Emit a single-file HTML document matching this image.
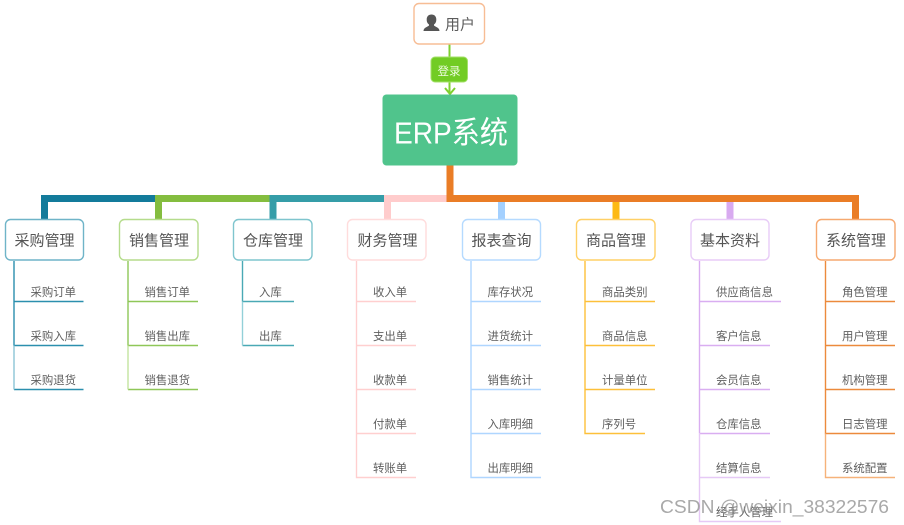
<!DOCTYPE html>
<html><head><meta charset="utf-8"><style>
html,body{margin:0;padding:0;background:#fff;width:904px;height:525px;overflow:hidden}
svg{display:block;filter:blur(0.3px)}
text{font-family:"Liberation Sans","Noto Sans CJK SC",sans-serif}
.p{font-size:15px;fill:#555;text-anchor:middle}
.c{font-size:11.4px;fill:#5f5f5f}
rect.b{fill:#fff;stroke-width:1.4}
.l{fill:none;stroke-width:1.4}
</style></head><body>
<svg width="904" height="525" viewBox="0 0 904 525" xmlns="http://www.w3.org/2000/svg">

<!-- bus -->
<rect x="446.5" y="165" width="7" height="37" fill="#ea7d26"/>
<rect x="41" y="195" width="114" height="7" fill="#137b9b"/>
<rect x="41" y="195" width="7" height="24" fill="#137b9b"/>
<rect x="155" y="195" width="114.5" height="7" fill="#84bd3f"/>
<rect x="155" y="195" width="7" height="24" fill="#84bd3f"/>
<rect x="269.5" y="195" width="114.5" height="7" fill="#359da8"/>
<rect x="269.5" y="195" width="7" height="24" fill="#359da8"/>
<rect x="384" y="195" width="62.5" height="7" fill="#ffcccc"/>
<rect x="384" y="195" width="7" height="24" fill="#ffcccc"/>
<rect x="446.5" y="195" width="412.5" height="7" fill="#ea7d26"/>
<rect x="498" y="202" width="7" height="17" fill="#a3d0ff"/>
<rect x="612.5" y="202" width="7" height="17" fill="#fdb913"/>
<rect x="726.5" y="202" width="7" height="17" fill="#d8aaf0"/>
<rect x="852" y="202" width="7" height="17" fill="#ea7d26"/>

<!-- user -->
<line x1="449.5" y1="44" x2="449.5" y2="94" stroke="#7ed02f" stroke-width="2"/>
<path d="M445 88 L450 94 L455 88" fill="none" stroke="#7ed02f" stroke-width="2"/>
<rect class="b" x="414" y="3.5" width="70.5" height="40.5" rx="5" stroke="#f7bd95"/>
<path d="M423.500 30.500 c0-3.500 4-4 5.500-5.500 v-1 c-1.800-1.200-2.300-3-2.300-5 c0-3 1.800-5 4.800-5 s4.800 2 4.800 5 c0 2-.5 3.800-2.300 5 v1 c1.500 1.500 5.500 2 5.500 5.500 z" fill="#555" transform="translate(0,0.5)"/>
<text x="445" y="29.5" style="font-size:15px;fill:#5c5c5c">用户</text>
<rect x="431" y="57" width="36.5" height="25" rx="4" fill="#72cc24" stroke="#a4e06a" stroke-width="1"/>
<text x="437.5" y="75" style="font-size:11.5px;fill:#eefbe0">登录</text>
<rect x="382.5" y="94.5" width="135" height="71" rx="4" fill="#50c48c"/>
<text x="394" y="143.5" textLength="114" lengthAdjust="spacingAndGlyphs" style="font-size:31px;fill:#fff">ERP系统</text>

<!-- parents -->
<rect class="b" x="5.5" y="219.5" width="78" height="40.5" rx="5" stroke="#6fb4c8"/>
<text class="p" x="44.5" y="245.5">采购管理</text>
<rect class="b" x="119.5" y="219.5" width="78.5" height="40.5" rx="5" stroke="#b5dc8c"/>
<text class="p" x="159" y="245.5">销售管理</text>
<rect class="b" x="233.5" y="219.5" width="78.5" height="40.5" rx="5" stroke="#7fc5ce"/>
<text class="p" x="273" y="245.5">仓库管理</text>
<rect class="b" x="347.5" y="219.5" width="78.5" height="40.5" rx="5" stroke="#ffdcdc"/>
<text class="p" x="387.5" y="245.5">财务管理</text>
<rect class="b" x="462.5" y="219.5" width="78" height="40.5" rx="5" stroke="#b5daff"/>
<text class="p" x="501.5" y="245.5">报表查询</text>
<rect class="b" x="576.5" y="219.5" width="78.5" height="40.5" rx="5" stroke="#ffd066"/>
<text class="p" x="616" y="245.5">商品管理</text>
<rect class="b" x="691" y="219.5" width="78" height="40.5" rx="5" stroke="#e8ccf7"/>
<text class="p" x="730" y="245.5">基本资料</text>
<rect class="b" x="816.5" y="219.5" width="78.5" height="40.5" rx="5" stroke="#f6a970"/>
<text class="p" x="856" y="245.5">系统管理</text>

<!-- 采购 -->
<path class="l" d="M14 261 V345.5 M14 301.5 H83.5 M14 345.5 H83.5 M14 389.5 H83.5" stroke="#2b8fae"/>
<path class="l" d="M14 345.5 V389.5" stroke="#8cc5d6"/>
<text class="c" x="30.500" y="296">采购订单</text>
<text class="c" x="30.500" y="340">采购入库</text>
<text class="c" x="30.500" y="384">采购退货</text>

<!-- 销售 -->
<path class="l" d="M128 261 V345.5 M128 301.5 H198 M128 345.5 H198 M128 389.5 H198" stroke="#8fc758"/>
<path class="l" d="M128 345.5 V389.5" stroke="#c3e3a0"/>
<text class="c" x="144.5" y="296">销售订单</text>
<text class="c" x="144.5" y="340">销售出库</text>
<text class="c" x="144.5" y="384">销售退货</text>

<!-- 仓库 -->
<path class="l" d="M242.5 261 V301.5 M242.5 301.5 H294 M242.5 345.5 H294" stroke="#4aa9b5"/>
<path class="l" d="M242.5 301.5 V345.5" stroke="#93d0d8"/>
<text class="c" x="259" y="296">入库</text>
<text class="c" x="259" y="340">出库</text>

<!-- 财务 -->
<path class="l" d="M356.5 261 V477.5 H416 M356.5 301.5 H416 M356.5 345.5 H416 M356.5 389.5 H416 M356.5 433.5 H416" stroke="#ffcfcf"/>
<text class="c" x="373" y="296">收入单</text>
<text class="c" x="373" y="340">支出单</text>
<text class="c" x="373" y="384">收款单</text>
<text class="c" x="373" y="428">付款单</text>
<text class="c" x="373" y="472">转账单</text>

<!-- 报表 -->
<path class="l" d="M471 261 V477.5 H541 M471 301.5 H541 M471 345.5 H541 M471 389.5 H541 M471 433.5 H541" stroke="#afd6ff"/>
<text class="c" x="487.5" y="296">库存状况</text>
<text class="c" x="487.5" y="340">进货统计</text>
<text class="c" x="487.5" y="384">销售统计</text>
<text class="c" x="487.5" y="428">入库明细</text>
<text class="c" x="487.5" y="472">出库明细</text>

<!-- 商品 -->
<path class="l" d="M585 261 V433.5 H645 M585 301.5 H655 M585 345.5 H655 M585 389.5 H655" stroke="#fdc03a"/>
<text class="c" x="602" y="296">商品类别</text>
<text class="c" x="602" y="340">商品信息</text>
<text class="c" x="602" y="384">计量单位</text>
<text class="c" x="602" y="428">序列号</text>

<!-- 基本 -->
<path class="l" d="M699.5 261 V433 M699.5 301.5 H781 M699.5 345.5 H770 M699.5 389.5 H770 M699.5 433.5 H770" stroke="#d9aef1"/>
<path class="l" d="M699.5 433 V521.5 H781 M699.5 477.5 H770" stroke="#e6c9f6"/>
<text class="c" x="716" y="296">供应商信息</text>
<text class="c" x="716" y="340">客户信息</text>
<text class="c" x="716" y="384">会员信息</text>
<text class="c" x="716" y="428">仓库信息</text>
<text class="c" x="716" y="472">结算信息</text>
<text class="c" x="716" y="516">经手人管理</text>

<!-- 系统 -->
<path class="l" d="M825.5 261 V433.5 H895 M825.5 301.5 H895 M825.5 345.5 H895 M825.5 389.5 H895" stroke="#ec8a3c"/>
<path class="l" d="M825.5 433.5 V477.5 H895" stroke="#f6b27a"/>
<text class="c" x="842" y="296">角色管理</text>
<text class="c" x="842" y="340">用户管理</text>
<text class="c" x="842" y="384">机构管理</text>
<text class="c" x="842" y="428">日志管理</text>
<text class="c" x="842" y="472">系统配置</text>

<!-- watermark -->
<text x="660" y="513" textLength="229" lengthAdjust="spacingAndGlyphs" style="font-size:18px;fill:#8c8c8c;fill-opacity:.75">CSDN @weixin_38322576</text>
</svg>
</body></html>
